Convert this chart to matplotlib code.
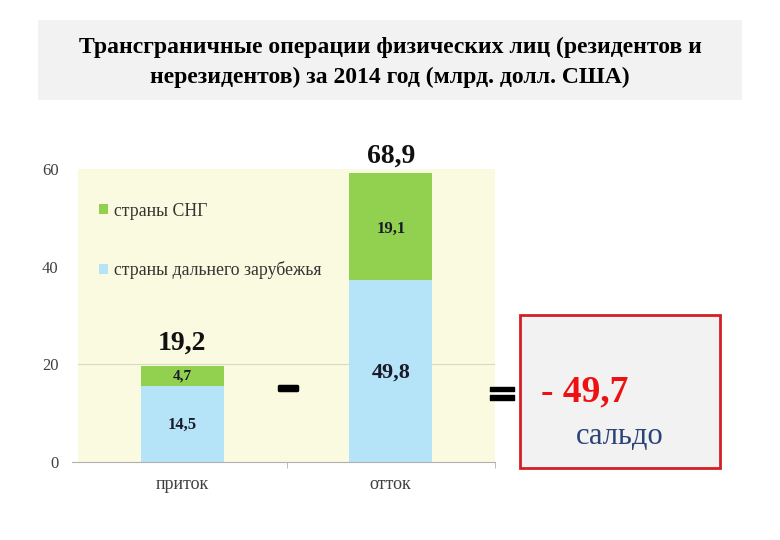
import matplotlib.pyplot as plt
import matplotlib.patheffects as pe
from matplotlib.patches import Rectangle

plt.rcParams['font.family'] = ['Liberation Serif', 'DejaVu Serif']

categories = ["приток", "отток"]
# высота столбцов так, как они нарисованы на исходной диаграмме
far_heights = [15.6, 37.2]
cis_heights = [4.1, 21.9]
# подписи значений
far_labels = ["14,5", "49,8"]
cis_labels = ["4,7", "19,1"]
total_labels = ["19,2", "68,9"]
saldo_label = "- 49,7"

fig = plt.figure(figsize=(7.8, 5.4), dpi=100)
fig.patch.set_facecolor("white")

# заголовок в сером блоке
fig.patches.append(Rectangle((38 / 780, 1 - 100 / 540), 704 / 780, 80 / 540,
                             transform=fig.transFigure, facecolor="#f2f2f2",
                             edgecolor="none", zorder=0))
fig.text(0.5, 1 - 47 / 540, "Трансграничные операции физических лиц (резидентов и",
         ha="center", va="center", fontsize=17, fontweight="bold")
fig.text(0.5, 1 - 77 / 540, "нерезидентов) за 2014 год (млрд. долл. США)",
         ha="center", va="center", fontsize=17, fontweight="bold")

ax = fig.add_axes([78 / 780, 1 - 462 / 540, (495 - 78) / 780, (462 - 169) / 540])
ax.set_facecolor("#f9fadf")
x = range(len(categories))
ax.bar(x, far_heights, width=0.4, color="#b5e3f8", label="страны дальнего зарубежья", zorder=2)
ax.bar(x, cis_heights, width=0.4, bottom=far_heights, color="#92d050",
       label="страны СНГ", zorder=2)
ax.axhline(20, color="#d8d8c8", lw=0.8, zorder=1)

ax.set_xlim(-0.5, 1.5)
ax.set_ylim(0, 60)
ax.set_yticks([0, 20, 40, 60])
ax.tick_params(axis="y", length=0, labelsize=12, labelcolor="#404040", pad=14)
ax.set_xticks(list(x))
ax.set_xticklabels(categories)
ax.set_xticks([0.5, 1.5], minor=True)
ax.tick_params(axis="x", which="major", length=0, labelsize=13, labelcolor="#404040", pad=10)
ax.tick_params(axis="x", which="minor", length=4, color="#b0b0b0")
for s in ["top", "right", "left"]:
    ax.spines[s].set_visible(False)
ax.spines["bottom"].set_color("#b0b0b0")
ax.spines["bottom"].set_bounds(-0.5 - 0.03, 1.5)

far_sizes = [12, 16]
cis_sizes = [11, 12]
for i in x:
    ax.text(i, far_heights[i] * 0.49, far_labels[i],
            ha="center", va="center", fontweight="bold", color="#1a1a2a",
            fontsize=far_sizes[i], zorder=3)
    ax.text(i, far_heights[i] + cis_heights[i] * 0.48, cis_labels[i],
            ha="center", va="center", fontweight="bold", color="#1a1a2a",
            fontsize=cis_sizes[i], zorder=3)
    ax.text(i, far_heights[i] + cis_heights[i] + (2.0 if i == 0 else 1.0), total_labels[i],
            ha="center", va="bottom", fontweight="bold", fontsize=20, color="#111111",
            clip_on=False, zorder=3)

handles, labels = ax.get_legend_handles_labels()
ax.legend(handles[::-1], labels[::-1], loc="upper left", bbox_to_anchor=(0.013, 0.94),
          frameon=False, fontsize=12.8, handlelength=0.5, handleheight=0.5,
          handletextpad=0.3, labelspacing=2.35, labelcolor="#333333")

# знаки операций
fig.text(288 / 780, 1 - 389 / 540, "−", ha="center", va="center", fontsize=21,
         fontweight="bold", family=["DejaVu Sans"],
         path_effects=[pe.withStroke(linewidth=2.5, foreground="black")])
fig.text(502 / 780, 1 - 395 / 540, "=", ha="center", va="center", fontsize=27,
         fontweight="bold", family=["DejaVu Sans"],
         path_effects=[pe.withStroke(linewidth=1.0, foreground="black")])

# блок сальдо
fig.patches.append(Rectangle((520 / 780, 1 - 468 / 540), 200 / 780, 153 / 540,
                             transform=fig.transFigure, facecolor="#f2f2f2",
                             edgecolor="#d41f26", lw=2, zorder=1))
fig.text(585 / 780, 1 - 392 / 540, saldo_label, ha="center", va="center",
         fontsize=27, fontweight="bold", color="#ee1111")
fig.text(620 / 780, 1 - 437 / 540, "сальдо", ha="center", va="center",
         fontsize=22, color="#2a4478")

fig.savefig("out.png", dpi=100)
